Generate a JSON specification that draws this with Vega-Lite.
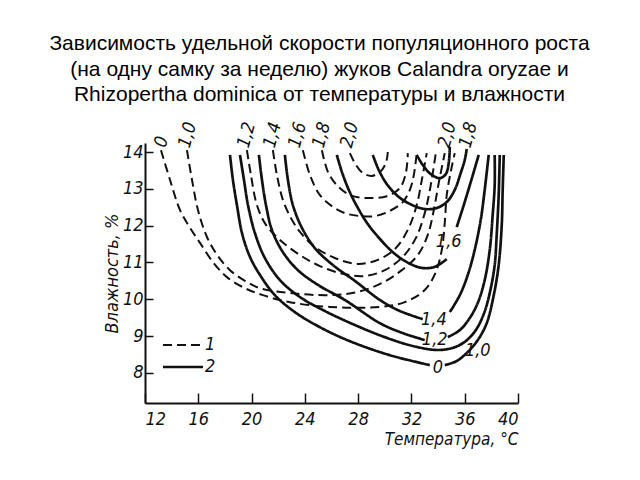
{
  "$schema": "https://vega.github.io/schema/vega-lite/v6.json",
  "width": 373,
  "height": 260,
  "autosize": {"type": "none"},
  "padding": {"left": 145, "top": 143, "right": 122, "bottom": 77},
  "background": "white",
  "config": {"view": {"stroke": null}},
  "title": {
    "text": ["Зависимость удельной скорости популяционного роста", "(на одну самку за неделю) жуков Calandra oryzae и", "Rhizopertha dominica от температуры и влажности"],
    "font": "Liberation Sans", "fontSize": 21, "fontWeight": "normal", "color": "#000",
    "anchor": "middle", "frame": "group", "dx": -12, "lineHeight": 25.5, "offset": 15
  },
  "datasets": {
    "curves": [
      {"c":"d0","s":"1","i":0,"t":13.2,"h":14.05},{"c":"d0","s":"1","i":1,"t":13.88,"h":13.24},{"c":"d0","s":"1","i":2,"t":14.63,"h":12.42},{"c":"d0","s":"1","i":3,"t":15.38,"h":11.94},{"c":"d0","s":"1","i":4,"t":16.13,"h":11.53},{"c":"d0","s":"1","i":5,"t":17.1,"h":11.01},{"c":"d0","s":"1","i":6,"t":18.15,"h":10.6},{"c":"d0","s":"1","i":7,"t":19.5,"h":10.3},{"c":"d0","s":"1","i":8,"t":20.85,"h":10.11},{"c":"d0","s":"1","i":9,"t":22.88,"h":9.92},{"c":"d0","s":"1","i":10,"t":25.88,"h":9.79},{"c":"d0","s":"1","i":11,"t":29.63,"h":9.79},{"c":"d0","s":"1","i":12,"t":31.5,"h":9.92},{"c":"d0","s":"1","i":13,"t":33.0,"h":10.25},{"c":"d0","s":"1","i":14,"t":33.83,"h":10.74},{"c":"d0","s":"1","i":15,"t":34.28,"h":11.34},{"c":"d0","s":"1","i":16,"t":34.5,"h":12.07},{"c":"d0","s":"1","i":17,"t":34.65,"h":12.83},{"c":"d0","s":"1","i":18,"t":34.95,"h":13.46},{"c":"d0","s":"1","i":19,"t":35.25,"h":13.97},
      {"c":"d10","s":"1","i":0,"t":15.15,"h":14.05},{"c":"d10","s":"1","i":1,"t":15.53,"h":13.24},{"c":"d10","s":"1","i":2,"t":15.98,"h":12.42},{"c":"d10","s":"1","i":3,"t":16.65,"h":11.69},{"c":"d10","s":"1","i":4,"t":17.48,"h":11.17},{"c":"d10","s":"1","i":5,"t":18.38,"h":10.79},{"c":"d10","s":"1","i":6,"t":19.5,"h":10.5},{"c":"d10","s":"1","i":7,"t":20.63,"h":10.3},{"c":"d10","s":"1","i":8,"t":22.88,"h":10.17},{"c":"d10","s":"1","i":9,"t":25.88,"h":10.11},{"c":"d10","s":"1","i":10,"t":27.98,"h":10.2},{"c":"d10","s":"1","i":11,"t":29.78,"h":10.44},{"c":"d10","s":"1","i":12,"t":31.28,"h":10.79},{"c":"d10","s":"1","i":13,"t":32.48,"h":11.2},{"c":"d10","s":"1","i":14,"t":33.23,"h":11.75},{"c":"d10","s":"1","i":15,"t":33.68,"h":12.42},{"c":"d10","s":"1","i":16,"t":34.05,"h":13.16},{"c":"d10","s":"1","i":17,"t":34.5,"h":13.97},
      {"c":"d12","s":"1","i":0,"t":19.65,"h":14.05},{"c":"d12","s":"1","i":1,"t":19.95,"h":13.38},{"c":"d12","s":"1","i":2,"t":20.4,"h":12.56},{"c":"d12","s":"1","i":3,"t":21.08,"h":12.02},{"c":"d12","s":"1","i":4,"t":22.13,"h":11.61},{"c":"d12","s":"1","i":5,"t":23.63,"h":11.2},{"c":"d12","s":"1","i":6,"t":25.13,"h":10.9},{"c":"d12","s":"1","i":7,"t":26.85,"h":10.69},{"c":"d12","s":"1","i":8,"t":28.5,"h":10.63},{"c":"d12","s":"1","i":9,"t":30.0,"h":10.79},{"c":"d12","s":"1","i":10,"t":31.35,"h":11.15},{"c":"d12","s":"1","i":11,"t":32.33,"h":11.66},{"c":"d12","s":"1","i":12,"t":33.0,"h":12.34},{"c":"d12","s":"1","i":13,"t":33.45,"h":13.1},{"c":"d12","s":"1","i":14,"t":33.83,"h":13.97},
      {"c":"d14","s":"1","i":0,"t":21.6,"h":14.05},{"c":"d14","s":"1","i":1,"t":21.9,"h":13.38},{"c":"d14","s":"1","i":2,"t":22.35,"h":12.7},{"c":"d14","s":"1","i":3,"t":22.95,"h":12.21},{"c":"d14","s":"1","i":4,"t":23.63,"h":11.83},{"c":"d14","s":"1","i":5,"t":24.75,"h":11.42},{"c":"d14","s":"1","i":6,"t":26.25,"h":11.12},{"c":"d14","s":"1","i":7,"t":27.98,"h":10.96},{"c":"d14","s":"1","i":8,"t":29.48,"h":11.07},{"c":"d14","s":"1","i":9,"t":30.83,"h":11.39},{"c":"d14","s":"1","i":10,"t":31.8,"h":11.94},{"c":"d14","s":"1","i":11,"t":32.4,"h":12.56},{"c":"d14","s":"1","i":12,"t":32.78,"h":13.24},{"c":"d14","s":"1","i":13,"t":33.15,"h":13.97},
      {"c":"d16","s":"1","i":0,"t":23.85,"h":14.05},{"c":"d16","s":"1","i":1,"t":24.38,"h":13.38},{"c":"d16","s":"1","i":2,"t":25.13,"h":12.83},{"c":"d16","s":"1","i":3,"t":26.1,"h":12.51},{"c":"d16","s":"1","i":4,"t":27.0,"h":12.34},{"c":"d16","s":"1","i":5,"t":28.13,"h":12.26},{"c":"d16","s":"1","i":6,"t":29.25,"h":12.26},{"c":"d16","s":"1","i":7,"t":30.38,"h":12.4},{"c":"d16","s":"1","i":8,"t":31.35,"h":12.64},{"c":"d16","s":"1","i":9,"t":31.88,"h":12.97},{"c":"d16","s":"1","i":10,"t":32.18,"h":13.38},{"c":"d16","s":"1","i":11,"t":32.4,"h":13.97},
      {"c":"d18","s":"1","i":0,"t":25.28,"h":14.05},{"c":"d18","s":"1","i":1,"t":25.73,"h":13.46},{"c":"d18","s":"1","i":2,"t":26.4,"h":13.1},{"c":"d18","s":"1","i":3,"t":27.38,"h":12.83},{"c":"d18","s":"1","i":4,"t":28.65,"h":12.75},{"c":"d18","s":"1","i":5,"t":30.15,"h":12.8},{"c":"d18","s":"1","i":6,"t":31.13,"h":13.02},{"c":"d18","s":"1","i":7,"t":31.58,"h":13.43},{"c":"d18","s":"1","i":8,"t":31.73,"h":13.97},
      {"c":"d20","s":"1","i":0,"t":27.38,"h":13.97},{"c":"d20","s":"1","i":1,"t":27.83,"h":13.65},{"c":"d20","s":"1","i":2,"t":28.35,"h":13.43},{"c":"d20","s":"1","i":3,"t":29.03,"h":13.35},{"c":"d20","s":"1","i":4,"t":29.7,"h":13.48},{"c":"d20","s":"1","i":5,"t":30.08,"h":13.7},{"c":"d20","s":"1","i":6,"t":30.23,"h":14.0},
      {"c":"s0a","s":"2","i":0,"t":18.38,"h":13.92},{"c":"s0a","s":"2","i":1,"t":18.6,"h":13.24},{"c":"s0a","s":"2","i":2,"t":18.9,"h":12.56},{"c":"s0a","s":"2","i":3,"t":19.28,"h":11.8},{"c":"s0a","s":"2","i":4,"t":19.88,"h":11.15},{"c":"s0a","s":"2","i":5,"t":20.63,"h":10.66},{"c":"s0a","s":"2","i":6,"t":21.75,"h":10.11},{"c":"s0a","s":"2","i":7,"t":23.25,"h":9.65},{"c":"s0a","s":"2","i":8,"t":25.13,"h":9.24},{"c":"s0a","s":"2","i":9,"t":27.38,"h":8.86},{"c":"s0a","s":"2","i":10,"t":30.38,"h":8.48},{"c":"s0a","s":"2","i":11,"t":33.38,"h":8.21},
      {"c":"s0b","s":"2","i":0,"t":34.5,"h":8.21},{"c":"s0b","s":"2","i":1,"t":35.4,"h":8.32},{"c":"s0b","s":"2","i":2,"t":36.15,"h":8.54},{"c":"s0b","s":"2","i":3,"t":36.98,"h":8.89},{"c":"s0b","s":"2","i":4,"t":37.65,"h":9.35},{"c":"s0b","s":"2","i":5,"t":38.18,"h":10.11},{"c":"s0b","s":"2","i":6,"t":38.55,"h":10.93},{"c":"s0b","s":"2","i":7,"t":38.78,"h":12.02},{"c":"s0b","s":"2","i":8,"t":38.85,"h":12.97},{"c":"s0b","s":"2","i":9,"t":38.93,"h":13.92},
      {"c":"s10","s":"2","i":0,"t":19.13,"h":13.92},{"c":"s10","s":"2","i":1,"t":19.43,"h":13.24},{"c":"s10","s":"2","i":2,"t":19.73,"h":12.56},{"c":"s10","s":"2","i":3,"t":20.25,"h":11.8},{"c":"s10","s":"2","i":4,"t":21.0,"h":11.12},{"c":"s10","s":"2","i":5,"t":22.13,"h":10.52},{"c":"s10","s":"2","i":6,"t":23.63,"h":10.06},{"c":"s10","s":"2","i":7,"t":25.5,"h":9.68},{"c":"s10","s":"2","i":8,"t":27.75,"h":9.3},{"c":"s10","s":"2","i":9,"t":30.0,"h":8.97},{"c":"s10","s":"2","i":10,"t":32.1,"h":8.73},{"c":"s10","s":"2","i":11,"t":33.9,"h":8.62},{"c":"s10","s":"2","i":12,"t":35.03,"h":8.67},{"c":"s10","s":"2","i":13,"t":36.0,"h":8.84},{"c":"s10","s":"2","i":14,"t":36.83,"h":9.16},{"c":"s10","s":"2","i":15,"t":37.43,"h":9.6},{"c":"s10","s":"2","i":16,"t":37.88,"h":10.17},{"c":"s10","s":"2","i":17,"t":38.25,"h":10.93},{"c":"s10","s":"2","i":18,"t":38.4,"h":11.74},{"c":"s10","s":"2","i":19,"t":38.55,"h":12.83},{"c":"s10","s":"2","i":20,"t":38.63,"h":13.92},
      {"c":"s12a","s":"2","i":0,"t":20.55,"h":13.92},{"c":"s12a","s":"2","i":1,"t":20.78,"h":13.24},{"c":"s12a","s":"2","i":2,"t":21.08,"h":12.56},{"c":"s12a","s":"2","i":3,"t":21.53,"h":11.88},{"c":"s12a","s":"2","i":4,"t":22.35,"h":11.28},{"c":"s12a","s":"2","i":5,"t":23.48,"h":10.79},{"c":"s12a","s":"2","i":6,"t":24.98,"h":10.39},{"c":"s12a","s":"2","i":7,"t":27.0,"h":9.98},{"c":"s12a","s":"2","i":8,"t":29.63,"h":9.35},{"c":"s12a","s":"2","i":9,"t":31.35,"h":9.08},{"c":"s12a","s":"2","i":10,"t":33.0,"h":8.89},
      {"c":"s12b","s":"2","i":0,"t":34.73,"h":8.97},{"c":"s12b","s":"2","i":1,"t":35.63,"h":9.16},{"c":"s12b","s":"2","i":2,"t":36.38,"h":9.49},{"c":"s12b","s":"2","i":3,"t":36.98,"h":9.9},{"c":"s12b","s":"2","i":4,"t":37.5,"h":10.52},{"c":"s12b","s":"2","i":5,"t":37.88,"h":11.34},{"c":"s12b","s":"2","i":6,"t":38.1,"h":12.29},{"c":"s12b","s":"2","i":7,"t":38.25,"h":13.1},{"c":"s12b","s":"2","i":8,"t":38.25,"h":13.92},
      {"c":"s14a","s":"2","i":0,"t":22.5,"h":13.92},{"c":"s14a","s":"2","i":1,"t":22.73,"h":13.24},{"c":"s14a","s":"2","i":2,"t":23.1,"h":12.56},{"c":"s14a","s":"2","i":3,"t":23.78,"h":11.94},{"c":"s14a","s":"2","i":4,"t":24.75,"h":11.39},{"c":"s14a","s":"2","i":5,"t":26.1,"h":10.93},{"c":"s14a","s":"2","i":6,"t":27.75,"h":10.5},{"c":"s14a","s":"2","i":7,"t":29.63,"h":9.98},{"c":"s14a","s":"2","i":8,"t":31.13,"h":9.68},{"c":"s14a","s":"2","i":9,"t":32.85,"h":9.46},
      {"c":"s14b","s":"2","i":0,"t":34.88,"h":9.65},{"c":"s14b","s":"2","i":1,"t":35.63,"h":10.11},{"c":"s14b","s":"2","i":2,"t":36.23,"h":10.66},{"c":"s14b","s":"2","i":3,"t":36.75,"h":11.34},{"c":"s14b","s":"2","i":4,"t":37.2,"h":12.15},{"c":"s14b","s":"2","i":5,"t":37.5,"h":12.97},{"c":"s14b","s":"2","i":6,"t":37.8,"h":13.92},
      {"c":"s16a","s":"2","i":0,"t":26.4,"h":13.92},{"c":"s16a","s":"2","i":1,"t":26.78,"h":13.46},{"c":"s16a","s":"2","i":2,"t":27.3,"h":12.97},{"c":"s16a","s":"2","i":3,"t":27.98,"h":12.48},{"c":"s16a","s":"2","i":4,"t":28.73,"h":12.04},{"c":"s16a","s":"2","i":5,"t":29.63,"h":11.64},{"c":"s16a","s":"2","i":6,"t":30.6,"h":11.28},{"c":"s16a","s":"2","i":7,"t":31.65,"h":11.01},{"c":"s16a","s":"2","i":8,"t":32.78,"h":10.85},{"c":"s16a","s":"2","i":9,"t":33.75,"h":10.88},{"c":"s16a","s":"2","i":10,"t":34.65,"h":11.09},
      {"c":"s16b","s":"2","i":0,"t":35.4,"h":11.96},{"c":"s16b","s":"2","i":1,"t":35.93,"h":12.56},{"c":"s16b","s":"2","i":2,"t":36.45,"h":13.18},{"c":"s16b","s":"2","i":3,"t":37.05,"h":13.92},
      {"c":"s18","s":"2","i":0,"t":29.1,"h":13.92},{"c":"s18","s":"2","i":1,"t":29.55,"h":13.51},{"c":"s18","s":"2","i":2,"t":30.15,"h":13.13},{"c":"s18","s":"2","i":3,"t":30.98,"h":12.8},{"c":"s18","s":"2","i":4,"t":31.88,"h":12.59},{"c":"s18","s":"2","i":5,"t":33.0,"h":12.45},{"c":"s18","s":"2","i":6,"t":33.9,"h":12.48},{"c":"s18","s":"2","i":7,"t":34.65,"h":12.64},{"c":"s18","s":"2","i":8,"t":35.25,"h":12.97},{"c":"s18","s":"2","i":9,"t":35.7,"h":13.43},{"c":"s18","s":"2","i":10,"t":36.0,"h":13.78},{"c":"s18","s":"2","i":11,"t":36.15,"h":14.08},
      {"c":"s20","s":"2","i":0,"t":32.4,"h":13.92},{"c":"s20","s":"2","i":1,"t":32.85,"h":13.65},{"c":"s20","s":"2","i":2,"t":33.45,"h":13.4},{"c":"s20","s":"2","i":3,"t":34.13,"h":13.29},{"c":"s20","s":"2","i":4,"t":34.58,"h":13.4},{"c":"s20","s":"2","i":5,"t":34.8,"h":13.7},{"c":"s20","s":"2","i":6,"t":34.88,"h":14.14}
    ],
    "toplabels": [
      {"t":13.28,"h":14.27,"lab":"0"},{"t":15.23,"h":14.46,"lab":"1,0"},{"t":19.65,"h":14.46,"lab":"1,2"},{"t":21.6,"h":14.46,"lab":"1,4"},{"t":23.48,"h":14.46,"lab":"1,6"},{"t":25.28,"h":14.46,"lab":"1,8"},{"t":27.38,"h":14.46,"lab":"2,0"},{"t":34.73,"h":14.46,"lab":"2,0"},{"t":36.3,"h":14.46,"lab":"1,8"}
    ],
    "curvelabels": [
      {"t":34.8,"h":11.55,"lab":"1,6"},{"t":33.68,"h":9.44,"lab":"1,4"},{"t":33.75,"h":8.89,"lab":"1,2"},{"t":33.98,"h":8.13,"lab":"0"},{"t":36.98,"h":8.59,"lab":"1,0"}
    ]
  },
  "layer": [
    {
      "data": {"name": "curves"},
      "mark": {"type": "line", "color": "#111", "interpolate": "catmull-rom"},
      "encoding": {
        "x": {"field": "t", "type": "quantitative",
          "scale": {"domain": [12, 40], "nice": false, "zero": false},
          "axis": {"title": "Температура, °С", "values": [12,14,16,18,20,22,24,26,28,30,32,34,36,38,40],
            "labelExpr": "datum.value % 4 === 0 ? datum.label : ''",
            "tickSize": {"condition": {"test": "datum.value % 4 === 0", "value": -10}, "value": -6},
            "tickColor": "#111", "tickWidth": 1.5, "domainColor": "#111", "domainWidth": 2, "grid": false,
            "labelFont": "Liberation Sans Narrow, DejaVu Sans Condensed, sans-serif", "labelFontStyle": "italic", "labelFontSize": 18, "labelColor": "#111", "labelPadding": 17,
            "titleFont": "Liberation Sans Narrow, DejaVu Sans Condensed, sans-serif", "titleFontStyle": "italic", "titleFontWeight": "normal", "titleFontSize": 17, "titleColor": "#111",
            "titleAnchor": "end", "titlePadding": 3}},
        "y": {"field": "h", "type": "quantitative",
          "scale": {"domain": [7.18, 14.245], "nice": false, "zero": false},
          "axis": {"title": "Влажность, %", "values": [8,9,10,11,12,13,14], "tickSize": -8,
            "tickColor": "#111", "tickWidth": 1.5, "domainColor": "#111", "domainWidth": 2, "grid": false,
            "labelFont": "Liberation Sans Narrow, DejaVu Sans Condensed, sans-serif", "labelFontStyle": "italic", "labelFontSize": 18, "labelColor": "#111", "labelPadding": 10,
            "titleFont": "Liberation Sans Narrow, DejaVu Sans Condensed, sans-serif", "titleFontStyle": "italic", "titleFontWeight": "normal", "titleFontSize": 18, "titleColor": "#111", "titlePadding": 1}},
        "detail": {"field": "c", "type": "nominal"},
        "order": {"field": "i", "type": "quantitative"},
        "strokeDash": {"field": "s", "type": "ordinal",
          "scale": {"domain": ["1", "2"], "range": [[9, 5], [1, 0]]},
          "legend": {"orient": "none", "legendX": 29, "legendY": 193, "title": null, "padding": 0,
            "symbolType": "M-4,0H4", "symbolSize": 100, "symbolStrokeColor": "#111", "symbolFillColor": "transparent",
            "labelFont": "Liberation Sans Narrow, DejaVu Sans Condensed, sans-serif", "labelFontStyle": "italic", "labelFontSize": 18, "labelColor": "#111",
            "labelOffset": 13, "rowPadding": 4}},
        "strokeWidth": {"field": "s", "type": "ordinal", "scale": {"domain": ["1", "2"], "range": [2.0, 2.7]}}
      }
    },
    {
      "data": {"name": "toplabels"},
      "mark": {"type": "text", "angle": 285, "align": "center", "baseline": "middle", "font": "Liberation Sans Narrow, DejaVu Sans Condensed, sans-serif", "fontStyle": "italic", "fontSize": 18, "color": "#111"},
      "encoding": {"x": {"field": "t", "type": "quantitative"}, "y": {"field": "h", "type": "quantitative"}, "text": {"field": "lab"}}
    },
    {
      "data": {"name": "curvelabels"},
      "mark": {"type": "text", "align": "center", "baseline": "middle", "font": "Liberation Sans Narrow, DejaVu Sans Condensed, sans-serif", "fontStyle": "italic", "fontSize": 18, "color": "#111"},
      "encoding": {"x": {"field": "t", "type": "quantitative"}, "y": {"field": "h", "type": "quantitative"}, "text": {"field": "lab"}}
    }
  ]
}
